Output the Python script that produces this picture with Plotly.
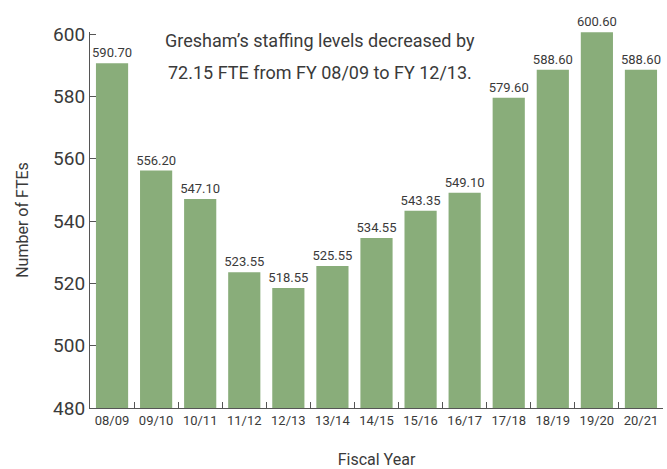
import plotly.graph_objects as go

years = ["08/09", "09/10", "10/11", "11/12", "12/13", "13/14", "14/15",
         "15/16", "16/17", "17/18", "18/19", "19/20", "20/21"]
ftes = [590.70, 556.20, 547.10, 523.55, 518.55, 525.55, 534.55,
        543.35, 549.10, 579.60, 588.60, 600.60, 588.60]
y_ticks = [480, 500, 520, 540, 560, 580, 600]
title_lines = ["Gresham’s staffing levels decreased by",
               "72.15 FTE from FY 08/09 to FY 12/13."]

FONT = "Roboto, Liberation Sans, sans-serif"
TXT = "#3a3a3a"

fig = go.Figure(go.Bar(
    x=years, y=ftes,
    marker=dict(color="#89ad7a", line=dict(width=0)),
    width=0.73,
    text=[f"{v:.2f}" for v in ftes],
    textposition="outside",
    constraintext="none",
    textfont=dict(family=FONT, size=13, color=TXT),
    cliponaxis=False,
))

fig.update_layout(
    width=667, height=469,
    margin=dict(l=90, r=4, t=32, b=61),
    plot_bgcolor="white", paper_bgcolor="white",
    showlegend=False,
    font=dict(family=FONT, color=TXT),
    annotations=[
        dict(text=t, x=0.401, y=yy, xref="paper", yref="paper",
             xanchor="center", yanchor="middle", showarrow=False,
             font=dict(family=FONT, size=18, color=TXT))
        for t, yy in zip(title_lines, [0.978, 0.893])
    ],
)

fig.update_xaxes(
    showline=True, linecolor="#555", linewidth=1.2,
    ticks="inside", ticklen=6, tickcolor="#555", tickson="boundaries",
    tickangle=0,
    tickfont=dict(family=FONT, size=13, color=TXT),
    title=dict(text="Fiscal Year", font=dict(family=FONT, size=16, color=TXT), standoff=28),
    showgrid=False, automargin=False,
)
fig.update_yaxes(
    range=[480, 600.7], tickvals=y_ticks,
    showline=True, linecolor="#555", linewidth=1.2,
    ticks="inside", ticklen=6, tickcolor="#555",
    tickfont=dict(family=FONT, size=19, color=TXT),
    title=dict(text="Number of FTEs", font=dict(family=FONT, size=16, color=TXT), standoff=20),
    showgrid=False, zeroline=False, automargin=False,
)

fig.write_html("out.html", config={"displayModeBar": False},
               post_script="document.body.style.margin='0';")
